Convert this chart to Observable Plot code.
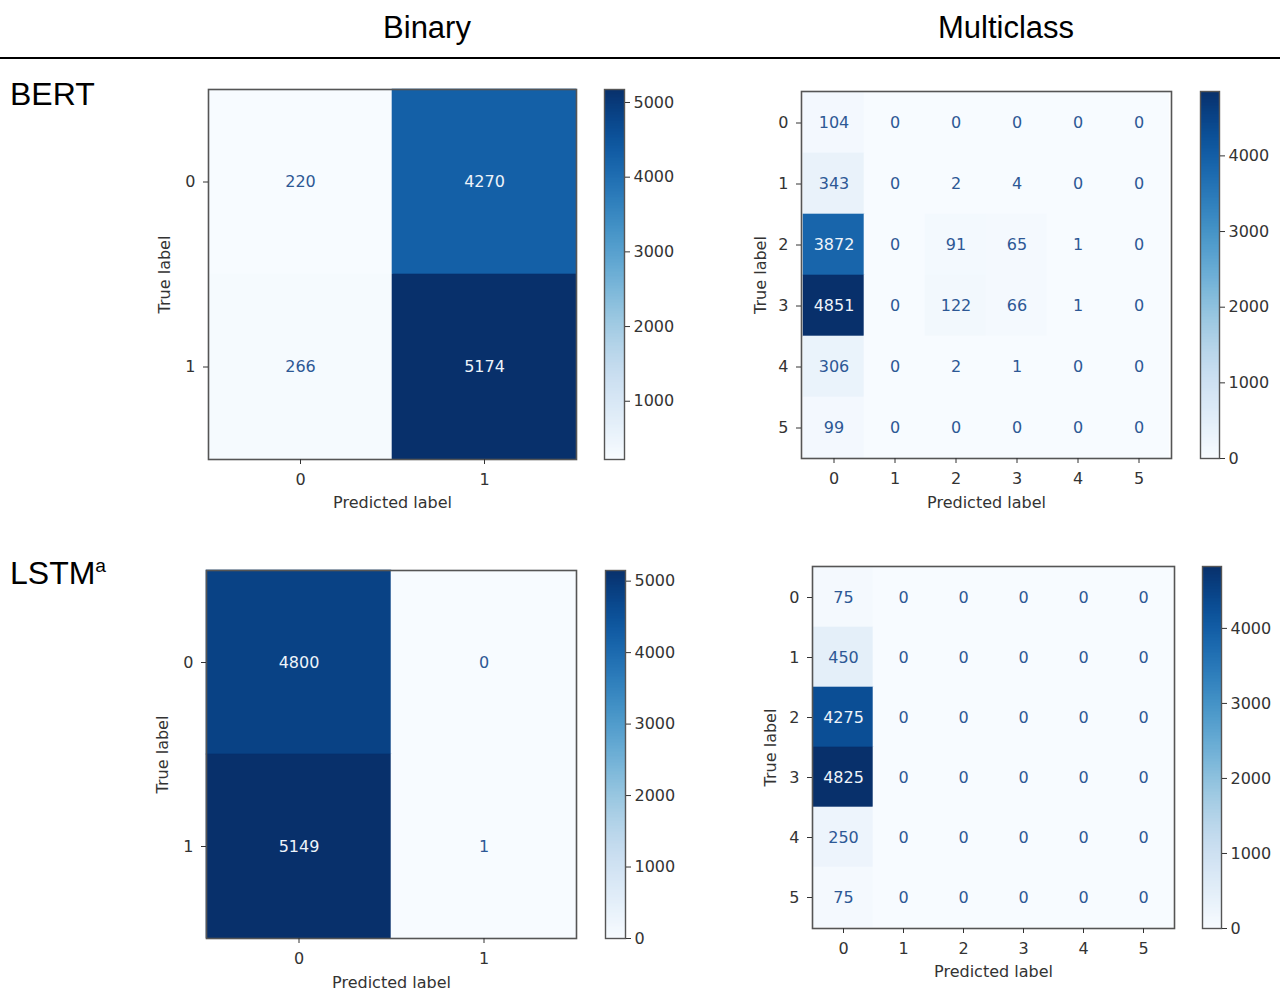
<!DOCTYPE html>
<html>
<head>
<meta charset="utf-8">
<script src="https://cdn.jsdelivr.net/npm/d3@7"></script>
<script src="https://cdn.jsdelivr.net/npm/@observablehq/plot@0.6"></script>
<style>
  html, body { margin: 0; padding: 0; background: #fff; }
  #root { position: relative; width: 1280px; height: 992px; overflow: hidden; background: #fff; }
  .hdr { position: absolute; font-family: 'Liberation Sans', Arial, sans-serif; color: #000; white-space: nowrap; line-height: 1; }
  .hdr sup { font-size: 0.6em; position: relative; top: -0.05em; vertical-align: top; }
</style>
</head>
<body>
<div id="root"></div>
<script>
// ---------- data ----------
const columnTitles = ["Binary", "Multiclass"];
const rowTitles = ["BERT", "LSTM"];
const binaryLabels = ["0", "1"];
const multiLabels = ["0", "1", "2", "3", "4", "5"];

const bertBinary = [
  [220, 4270],
  [266, 5174]
];
const bertMulti = [
  [104, 0, 0, 0, 0, 0],
  [343, 0, 2, 4, 0, 0],
  [3872, 0, 91, 65, 1, 0],
  [4851, 0, 122, 66, 1, 0],
  [306, 0, 2, 1, 0, 0],
  [99, 0, 0, 0, 0, 0]
];
const lstmBinary = [
  [4800, 0],
  [5149, 1]
];
const lstmMulti = [
  [75, 0, 0, 0, 0, 0],
  [450, 0, 0, 0, 0, 0],
  [4275, 0, 0, 0, 0, 0],
  [4825, 0, 0, 0, 0, 0],
  [250, 0, 0, 0, 0, 0],
  [75, 0, 0, 0, 0, 0]
];

const bertBinaryTicks = [1000, 2000, 3000, 4000, 5000];
const bertMultiTicks = [0, 1000, 2000, 3000, 4000];
const lstmBinaryTicks = [0, 1000, 2000, 3000, 4000, 5000];
const lstmMultiTicks = [0, 1000, 2000, 3000, 4000];

// ---------- layout ----------
const root = document.getElementById("root");
const darkText = "#2d5895";
const lightText = "#eef4fa";
const tickFont = "'DejaVu Sans', Verdana, sans-serif";

function addHeader(html, style) {
  const d = document.createElement("div");
  d.className = "hdr";
  d.innerHTML = html;
  Object.assign(d.style, style);
  root.append(d);
  return d;
}

function place(node, left, top) {
  node.style.position = "absolute";
  node.style.left = left + "px";
  node.style.top = top + "px";
  root.append(node);
}

function matrixPlot(cfg) {
  const {values, labels, frame, ticks, bar} = cfg;
  const [L, T, R, B] = frame;
  const data = [];
  values.forEach((row, i) => row.forEach((v, j) => data.push({truth: labels[i], pred: labels[j], value: v})));
  const flat = values.flat();
  const vmin = d3.min(flat), vmax = d3.max(flat);
  const thresh = (vmin + vmax) / 2;
  const ml = 80, mr = 10, mt = 10, mb = 80;
  const color = {type: "linear", scheme: "blues", domain: [vmin, vmax]};

  const svg = Plot.plot({
    width: (R - L) + ml + mr,
    height: (B - T) + mt + mb,
    marginLeft: ml, marginRight: mr, marginTop: mt, marginBottom: mb,
    style: {fontFamily: tickFont, fontSize: "16px", color: "#333", background: "transparent", overflow: "visible"},
    x: {domain: labels, padding: 0},
    y: {domain: labels, padding: 0},
    color,
    marks: [
      Plot.cell(data, {x: "pred", y: "truth", fill: "value", stroke: "value", strokeWidth: 0.6, inset: 0}),
      Plot.text(data, {filter: d => d.value < thresh, x: "pred", y: "truth", text: d => String(d.value), fill: darkText, fontSize: 16}),
      Plot.text(data, {filter: d => d.value >= thresh, x: "pred", y: "truth", text: d => String(d.value), fill: lightText, fontSize: 16}),
      Plot.frame({stroke: "#555", strokeWidth: 1.6}),
      Plot.axisX({tickSize: 5, tickPadding: 9, label: "Predicted label", labelAnchor: "center", labelOffset: cfg.xLabelOffset}),
      Plot.axisY({tickSize: 5, tickPadding: 8, label: "True label", labelAnchor: "center", labelOffset: cfg.yLabelOffset})
    ]
  });
  place(svg, L - ml, T - mt);

  // colorbar
  const [bL, bT, bR, bB] = bar;
  const n = 240;
  const steps = d3.range(n).map(i => {
    const lo = vmin + (vmax - vmin) * i / n;
    const hi = vmin + (vmax - vmin) * (i + 1) / n;
    return {lo, hi, mid: (lo + hi) / 2};
  });
  const cbl = 10, cbr = 80, cbt = 10, cbb = 10;
  const cb = Plot.plot({
    width: (bR - bL) + cbl + cbr,
    height: (bB - bT) + cbt + cbb,
    marginLeft: cbl, marginRight: cbr, marginTop: cbt, marginBottom: cbb,
    style: {fontFamily: tickFont, fontSize: "16px", color: "#333", background: "transparent", overflow: "visible"},
    y: {domain: [vmin, vmax]},
    color,
    marks: [
      Plot.rect(steps, {y1: "lo", y2: "hi", fill: "mid", shapeRendering: "crispEdges"}),
      Plot.frame({stroke: "#555", strokeWidth: 1.4}),
      Plot.axisY({anchor: "right", ticks, tickSize: 5, tickPadding: 4, tickFormat: d => String(d), label: null})
    ]
  });
  place(cb, bL - cbl, bT - cbt);
}

// headers
addHeader(columnTitles[0], {left: "0px", width: "854px", textAlign: "center", top: "12px", fontSize: "31px"});
addHeader(columnTitles[1], {left: "732px", width: "548px", textAlign: "center", top: "12px", fontSize: "31px"});
const line = document.createElement("div");
Object.assign(line.style, {position: "absolute", left: "0px", top: "57px", width: "1280px", height: "2px", background: "#000"});
root.append(line);
addHeader(rowTitles[0], {left: "10px", top: "78px", fontSize: "32px"});
addHeader(rowTitles[1] + "<sup>a</sup>", {left: "10px", top: "557px", fontSize: "32px"});

// panels
matrixPlot({values: bertBinary, labels: binaryLabels, frame: [208, 89, 576, 459], bar: [604, 89, 624, 459], ticks: bertBinaryTicks, xLabelOffset: 48, yLabelOffset: 50});
matrixPlot({values: bertMulti, labels: multiLabels, frame: [801, 91, 1171, 458], bar: [1200, 91, 1219, 458], ticks: bertMultiTicks, xLabelOffset: 49, yLabelOffset: 47});
matrixPlot({values: lstmBinary, labels: binaryLabels, frame: [206, 570, 576, 938], bar: [605, 570, 625, 938], ticks: lstmBinaryTicks, xLabelOffset: 49, yLabelOffset: 50});
matrixPlot({values: lstmMulti, labels: multiLabels, frame: [812, 566, 1174, 928], bar: [1202, 566, 1221, 928], ticks: lstmMultiTicks, xLabelOffset: 48, yLabelOffset: 48});
</script>
</body>
</html>
